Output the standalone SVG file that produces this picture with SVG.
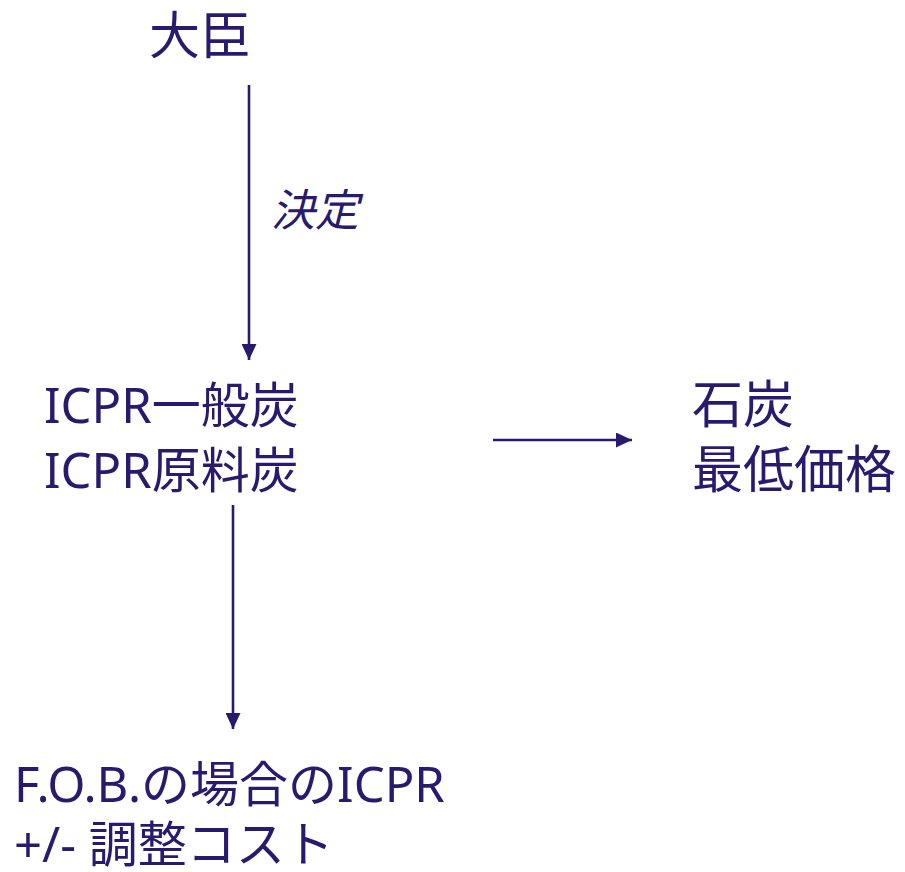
<svg xmlns="http://www.w3.org/2000/svg" width="905" height="872" viewBox="0 0 905 872">
<style>
.t{font-family:"Noto Sans","Noto Sans CJK JP",sans-serif;font-size:49px;fill:#2a1a6e}
.k{font-size:51px}
.i{font-family:"Noto Sans CJK JP",sans-serif;font-size:44px;fill:#2a1a6e;font-style:italic}
.c{stroke:#2a1a6e;stroke-width:2.6;fill:none}
</style>
<defs>
<marker id="a" viewBox="0 0 16 15" refX="16" refY="7.5" markerWidth="16" markerHeight="15" markerUnits="userSpaceOnUse" orient="auto">
<path d="M0,0L16,7.5L0,15z" fill="#2a1a6e"/>
</marker>
</defs>
<rect width="905" height="872" fill="#fff"/>
<g id="minister"><text class="t k" x="149" y="54">大臣</text></g>
<g id="icpr"><text class="t" x="44" y="423">ICPR一般炭</text><text class="t" x="44" y="488">ICPR原料炭</text></g>
<g id="minprice"><text class="t k" x="692" y="423">石炭</text><text class="t k" x="692" y="488">最低価格</text></g>
<g id="fob"><text class="t" x="14" y="802">F.O.B.の場合のICPR</text><text class="t" x="14" y="862">+/- 調整コスト</text></g>
<g id="connectors">
<line class="c" x1="249" y1="85" x2="249" y2="360" marker-end="url(#a)"/>
<text class="i" x="271" y="226">決定</text>
<line class="c" x1="233" y1="505" x2="233" y2="729" marker-end="url(#a)"/>
<line class="c" x1="493" y1="440" x2="632" y2="440" marker-end="url(#a)"/>
</g>
</svg>
